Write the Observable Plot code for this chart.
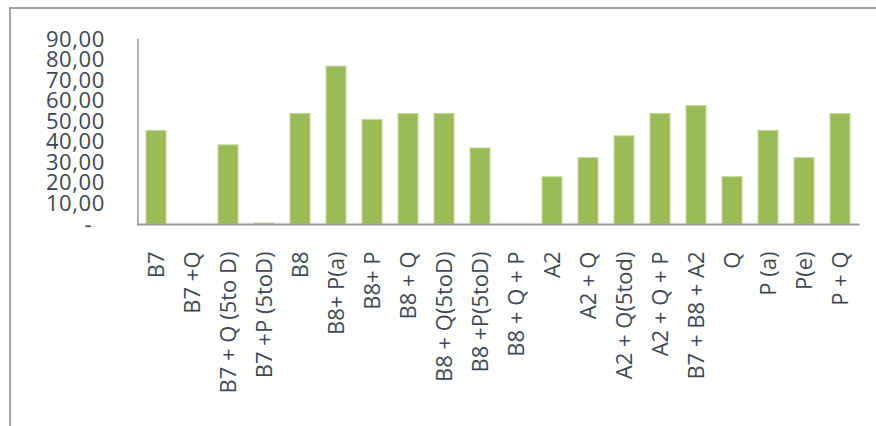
<!DOCTYPE html>
<html>
<head>
<meta charset="utf-8">
<script src="https://cdn.jsdelivr.net/npm/d3@7"></script>
<script src="https://cdn.jsdelivr.net/npm/@observablehq/plot@0.6"></script>
<style>
  html, body { margin: 0; padding: 0; background: #fff; }
  #wrap { position: relative; width: 876px; height: 426px; overflow: hidden; }
  #frame { position: absolute; left: 9px; top: 7px; right: -10px; bottom: -10px;
           border-left: 2px solid #a3a3a3; border-top: 2px solid #a3a3a3; }
  #chart { position: absolute; left: 0; top: 0; }
  .yax text { letter-spacing: 0.6px; }
</style>
</head>
<body>
<div id="wrap"><div id="frame"></div><div id="chart"></div></div>
<script>
const categories = ["B7", "B7 +Q", "B7 + Q (5to D)", "B7 +P (5toD)", "B8", "B8+ P(a)", "B8+ P", "B8 + Q",
  "B8 + Q(5toD)", "B8 +P(5toD)", "B8 + Q + P", "A2", "A2 + Q", "A2 + Q(5tod)", "A2 + Q + P",
  "B7 + B8 + A2", "Q", "P (a)", "P(e)", "P + Q"];
const values = [45.5, 0, 38.5, 0.5, 53.8, 76.8, 50.9, 53.8, 53.8, 37.0, 0, 23.0, 32.3, 42.9, 53.8,
  57.7, 23.0, 45.5, 32.3, 53.8];
const yTicks = [0, 10, 20, 30, 40, 50, 60, 70, 80, 90];

const data = categories.map((c, i) => ({cat: c, value: values[i]}));
const fmt = d => d === 0 ? "-\u00a0\u00a0" : d.toFixed(2).replace(".", ",");

const chart = Plot.plot({
  width: 876,
  height: 426,
  marginLeft: 137.4,
  marginRight: 16.6,
  marginTop: 39,
  marginBottom: 202,
  style: {fontFamily: "'Open Sans', sans-serif", background: "transparent", color: "#3f4853"},
  x: {domain: categories, paddingInner: 0.444, paddingOuter: 0.222, label: null},
  y: {domain: [0, 90], label: null},
  marks: [
    Plot.barY(data, {x: "cat", y: "value", fill: "#9bbb59", stroke: "#c4d79b", strokeWidth: 1}),
    Plot.frame({anchor: "left", stroke: "#9a9a9a", strokeWidth: 1.5}),
    Plot.ruleY([0], {stroke: "#9a9a9a", strokeWidth: 2}),
    Plot.axisY({ticks: yTicks, tickFormat: fmt, tickSize: 0, tickPadding: 33, fontSize: 22, label: null, className: "yax"}),
    Plot.axisX({tickRotate: -90, tickSize: 0, tickPadding: 27, fontSize: 22, label: null})
  ]
});
document.getElementById("chart").appendChild(chart);
</script>
</body>
</html>
